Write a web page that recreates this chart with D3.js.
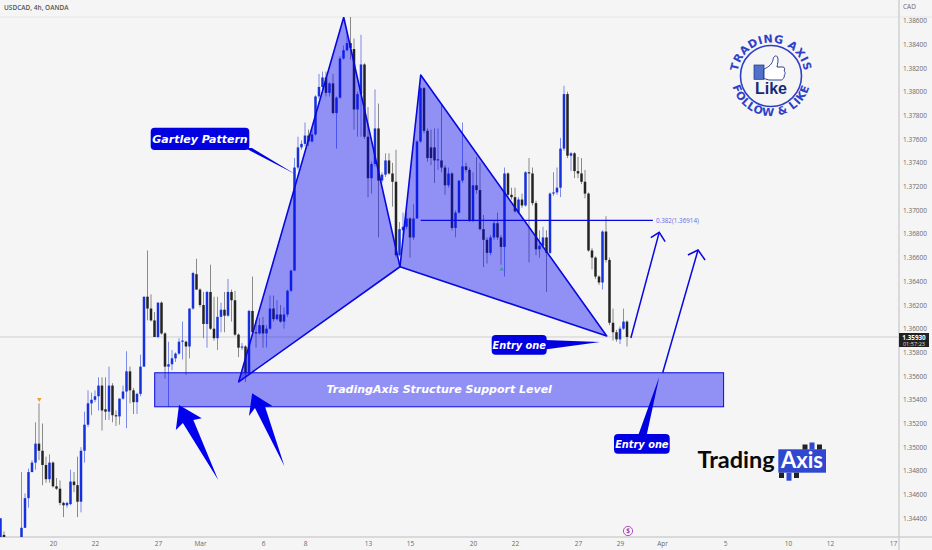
<!DOCTYPE html>
<html><head><meta charset="utf-8">
<style>html,body{margin:0;padding:0;background:#f5f5f5}svg{display:block}text{font-family:"Open Sans","Liberation Sans",sans-serif}</style>
<script src="https://cdn.jsdelivr.net/npm/d3@7/dist/d3.min.js"></script></head>
<body><svg id="c" width="932" height="550"></svg>
<script>
// All candle prices are pips above 1.3000 (e.g. 593 = 1.3593). First candle is bar index -1.
const firstBar=-1;
const opens=[423,426,416,418,412,415,423,432,457,479,
487,503,497,485,473,487,467,465,453,451,
452,471,468,454,497,519,537,540,543,552,
532,530,552,527,526,541,547,564,548,538,
545,568,627,617,607,593,622,596,568,570,
575,579,589,589,585,617,646,633,620,604,
631,600,592,610,616,611,631,624,595,584,
585,563,615,597,596,603,596,600,617,608,
612,606,612,632,649,736,753,756,763,758,
764,796,804,812,799,807,782,795,828,835,
841,836,785,798,823,762,727,739,769,725,
730,742,731,724,662,683,686,693,677,693,
758,803,767,753,753,742,742,736,721,731,
685,698,725,737,734,691,721,717,684,675,
664,677,689,677,669,731,713,711,698,709,
704,732,731,706,667,670,677,664,714,715,
719,752,798,746,748,733,731,724,714,666,
660,644,639,682,658,605,597,591,600,606];
const closes=[440,423,418,412,415,420,432,457,479,487,
503,497,485,473,487,467,465,453,451,453,
471,468,454,497,519,537,540,543,552,531,
530,552,527,526,541,547,564,548,538,545,
568,627,617,607,593,622,596,568,570,575,
579,589,590,585,617,647,633,620,604,631,
600,592,610,616,611,631,624,595,584,585,
563,615,597,596,603,596,600,617,608,612,
606,612,632,649,736,753,756,763,758,764,
796,804,812,799,807,782,795,828,835,841,
837,785,798,823,762,727,739,769,725,730,
742,731,724,662,684,686,693,677,693,758,
803,767,744,744,742,743,736,721,731,685,
698,725,737,734,691,721,717,684,675,664,
677,689,677,669,731,713,711,699,709,704,
732,731,706,667,670,677,664,714,715,719,
752,798,746,748,733,731,724,714,666,660,
644,639,682,658,605,597,591,600,606,593];
const highs=[440,429,420,420,418,421,479,461,482,489,
521,537,520,492,494,488,474,472,454,454,
481,479,492,500,530,548,546,548,559,559,
559,568,554,531,541,552,581,568,550,546,
578,627,666,629,614,622,623,597,589,582,
580,592,606,590,617,648,659,634,631,632,
654,627,627,622,631,642,633,632,596,588,
586,616,644,607,609,610,603,628,628,624,
620,618,633,650,744,762,759,774,768,769,
797,815,817,817,808,815,796,830,839,850,
865,845,800,848,824,787,741,802,790,732,
748,748,740,751,690,698,698,694,705,759,
804,804,769,768,769,769,789,738,736,732,
700,725,774,740,736,732,745,740,696,677,
679,691,698,679,736,732,719,719,711,714,
733,744,736,708,683,686,683,715,732,736,
761,805,800,749,749,745,744,734,715,668,
661,645,683,695,660,617,599,602,617,607];
const lows=[423,423,412,410,408,412,423,432,449,479,
481,489,468,470,470,466,464,451,441,449,
451,462,441,445,487,517,527,538,531,514,
523,523,521,518,519,540,516,537,528,528,
543,568,607,606,593,592,595,558,534,565,
572,578,574,561,575,616,633,618,592,584,
599,590,582,597,597,610,606,594,576,582,
555,561,596,584,595,584,584,599,606,607,
605,600,610,631,649,734,751,754,754,757,
763,794,801,796,796,781,752,794,827,834,
827,768,762,762,760,711,714,737,677,723,
728,730,703,660,661,678,684,660,675,693,
757,765,741,738,723,734,732,713,719,683,
677,697,723,732,690,690,714,683,652,655,
662,675,675,654,644,711,709,698,697,702,
703,656,704,662,660,668,631,663,712,713,
711,750,744,733,727,727,722,710,665,650,
642,637,633,656,603,590,589,587,599,585];

const priceTicks=[1.386,1.384,1.382,1.380,1.378,1.376,1.374,1.372,1.370,1.368,1.366,1.364,1.362,1.360,1.358,1.356,1.354,1.352,1.350,1.348,1.346,1.344];
const dateLabels=["20","22","27","Mar","6","8","13","15","20","22","27","29","Apr","5","10","12","17"];
const dateBars=[14,26,44,56,74,86,104,116,134,146,164,176,188,206,224,236,254];
const lastPrice=593, fibPrice=691.4;

// Drawings as [bar, pips]
const xabc=[[67.06,555.2],[97.06,862.8],[113.14,652.3]];
const bcd=[[113.14,652.3],[119.06,814.1],[172.2,593.8]];
const supportBars=[43.06,205.6], supportPips=[562.8,534.1];
const fibBars=[119.06,185.4];
const arrowOne=[[179.1,592.1],[187.2,681.3]], arrowOneHead=[[184.8,676.8],[187.2,681.3],[188.9,673.4]];
const arrowTwo=[[188.2,562.8],[198.3,666.4]], arrowTwoHead=[[195.4,662.2],[198.3,666.4],[200.3,658]];
const bigArrowA=[[50,535.6],[56.5,524.4],[54.1,522.9],[61.2,472.3],[51.1,520.4],[49.1,514.5]];
const bigArrowB=[[70.9,545.5],[76.7,534.7],[74.6,534.1],[80.1,484.1],[71.7,533],[70,526.3]];

const W=932,H=550,plotR=899,plotT=17,plotB=537;
const blue="#1530dc",ink="#232323",draw="#0808e0";
const xS=d3.scaleLinear().domain([0,254]).range([4,893]);
const price=d3.scaleLinear().domain([1.344,1.386]).range([518.3,20.6]);
const yS=p=>price(1.3+p/10000);
const svg=d3.select("#c");
svg.append("rect").attr("width",W).attr("height",H).attr("fill","#f5f5f5");
const defs=svg.append("defs");
defs.append("clipPath").attr("id","plot").append("rect").attr("x",0).attr("y",plotT).attr("width",plotR).attr("height",plotB-plotT);

// frame
svg.append("line").attr("x1",0).attr("x2",W).attr("y1",plotT).attr("y2",plotT).attr("stroke","#e6e6e6");
svg.append("line").attr("x1",0).attr("x2",W).attr("y1",plotB).attr("y2",plotB).attr("stroke","#cfcfcf").attr("stroke-width",1.5);
svg.append("line").attr("x1",plotR).attr("x2",plotR).attr("y1",0).attr("y2",H).attr("stroke","#cfcfcf").attr("stroke-width",1.5);
svg.append("line").attr("x1",0).attr("x2",plotR).attr("y1",yS(lastPrice)).attr("y2",yS(lastPrice)).attr("stroke","#cfcfcf");

// candles
const bars=d3.range(opens.length).map(i=>({bar:i+firstBar,o:opens[i],h:highs[i],l:lows[i],c:closes[i]}));
const g=svg.append("g").attr("clip-path","url(#plot)");
g.selectAll("line.w").data(bars).join("line").attr("class","w")
 .attr("x1",d=>xS(d.bar)).attr("x2",d=>xS(d.bar)).attr("y1",d=>yS(d.h)).attr("y2",d=>yS(d.l))
 .attr("stroke",d=>d.c>=d.o?"#6f7fe6":"#7d7d7d").attr("stroke-width",0.9);
g.selectAll("rect.b").data(bars).join("rect").attr("class","b")
 .attr("x",d=>xS(d.bar)-1.25).attr("width",2.5)
 .attr("y",d=>yS(Math.max(d.o,d.c))).attr("height",d=>Math.max(1,Math.abs(yS(d.o)-yS(d.c))))
 .attr("fill",d=>d.c>=d.o?blue:ink);

// pattern
const pt=d=>[xS(d[0]),yS(d[1])];
const line=d3.line().x(d=>xS(d[0])).y(d=>yS(d[1]));
[xabc,bcd].forEach(t=>{
 g.append("path").attr("d",line(t)+"Z").attr("fill","rgba(8,8,245,0.42)").attr("stroke",draw).attr("stroke-width",1.6).attr("stroke-linejoin","round");
});
// support box
g.append("rect").attr("x",xS(supportBars[0])).attr("y",yS(supportPips[0])).attr("width",xS(supportBars[1])-xS(supportBars[0])).attr("height",yS(supportPips[1])-yS(supportPips[0]))
 .attr("fill","rgba(8,8,245,0.42)").attr("stroke",draw).attr("stroke-width",1);
svg.append("text").attr("x",(xS(supportBars[0])+xS(supportBars[1]))/2).attr("y",392.5).attr("text-anchor","middle").attr("fill","#fff")
 .attr("font-size",11).attr("font-style","italic").attr("font-weight",600).style("font-family","'DejaVu Sans'").text("TradingAxis Structure Support Level");
// fib
svg.append("line").attr("x1",xS(fibBars[0])).attr("x2",xS(fibBars[1])).attr("y1",yS(fibPrice)).attr("y2",yS(fibPrice)).attr("stroke",draw).attr("stroke-width",1.3);
svg.append("text").attr("x",xS(fibBars[1])+3).attr("y",yS(fibPrice)+2.2).attr("font-size",6.3).attr("fill","#6a6ae6").text("0.382(1.36914)");
// arrows
[arrowOne,arrowOneHead,arrowTwo,arrowTwoHead].forEach(a=>svg.append("path").attr("d",line(a)).attr("fill","none").attr("stroke",draw).attr("stroke-width",1.5));
[bigArrowA,bigArrowB].forEach(a=>svg.append("path").attr("d",line(a)+"Z").attr("fill","#0000ee"));

// callouts
function callout(x,y,w,h,label,tail,fs){
 svg.append("path").attr("d","M"+tail.join("L")+"Z").attr("fill","#0000e0");
 svg.append("rect").attr("x",x).attr("y",y).attr("width",w).attr("height",h).attr("rx",4).attr("fill","#0000e0");
 svg.append("text").attr("x",x+w/2).attr("y",y+h/2+3.8).attr("text-anchor","middle").attr("fill","#fff").attr("font-size",fs)
  .attr("font-style","italic").attr("font-weight",700).style("font-family","'DejaVu Sans'").text(label);
}
callout(150.7,127.7,98.6,22.3,"Gartley Pattern",[[245,148],[295,174],[252,148]],11);
callout(491.7,335,55,19.7,"Entry one",[[545,340],[600,342],[545,349.5]],9.8);
callout(614,434,55.7,19.7,"Entry one",[[638.3,435],[659.3,376.7],[646.7,435]],9.8);

// axes
const axisFill="#6b6b6b";
const yAxis=d3.axisRight(price).tickValues(priceTicks).tickFormat(d3.format(".5f")).tickSize(0).tickPadding(4);
const ya=svg.append("g").attr("transform",`translate(${plotR},0)`).call(yAxis);
ya.select(".domain").remove();
ya.selectAll("text").attr("font-size",6.5).attr("fill",axisFill).style("font-family","'Open Sans'");
const xAxis=d3.axisBottom(d3.scaleLinear().domain(xS.domain()).range(xS.range())).tickValues(dateBars).tickFormat((d,i)=>dateLabels[i]).tickSize(0).tickPadding(4);
const xa=svg.append("g").attr("transform",`translate(0,${plotB})`).call(xAxis);
xa.select(".domain").remove();
xa.selectAll("text").attr("font-size",6.5).attr("fill",axisFill).style("font-family","'Open Sans'");
svg.append("text").attr("x",903).attr("y",8.5).attr("font-size",6.5).attr("fill",axisFill).text("CAD");
svg.append("text").attr("x",4).attr("y",9.5).attr("font-size",6.5).attr("fill","#555").attr("font-weight",600).text("USDCAD, 4h, OANDA");
// last price tag
svg.append("rect").attr("x",899).attr("y",333).attr("width",30).attr("height",14).attr("fill","#222");
svg.append("text").attr("x",914).attr("y",339.5).attr("text-anchor","middle").attr("font-size",6.3).attr("font-weight",700).attr("fill","#fff").text("1.35930");
svg.append("text").attr("x",914).attr("y",345.5).attr("text-anchor","middle").attr("font-size",5.6).attr("fill","#ddd").text("01:57:23");

// markers
svg.append("path").attr("d",d3.symbol(d3.symbolTriangle,9)).attr("transform",`translate(39.3,399.3) rotate(180)`).attr("fill","#f0a030");
svg.append("path").attr("d",d3.symbol(d3.symbolTriangle,9)).attr("transform",`translate(501.7,269.3)`).attr("fill","#3aa08a");
svg.append("circle").attr("cx",628).attr("cy",531).attr("r",4.6).attr("fill","#f5f5f5").attr("stroke","#b050c0").attr("stroke-width",1);
svg.append("text").attr("x",628).attr("y",533.4).attr("text-anchor","middle").attr("font-size",6.5).attr("font-weight",700).attr("fill","#a040b0").text("$");

// wordmark
const wm=svg.append("g");
wm.append("text").attr("x",697.5).attr("y",468).attr("font-size",23.5).attr("font-weight",700).attr("fill","#0a0a0a").style("font-family","Lato").text("Trading");
wm.append("rect").attr("x",778.3).attr("y",449.3).attr("width",47.7).attr("height",23.4).attr("fill","#2f48cf");
[[802.5,444.5,5,5,"#222"],[809.5,442.5,5,7,"#2f48cf"],[817,444.5,5,5,"#222"],[779,472.7,5,5.3,"#222"],[786.5,472.7,5,8,"#2f48cf"],[794,472.7,5,5.3,"#222"]].forEach(r=>
 wm.append("rect").attr("x",r[0]).attr("y",r[1]).attr("width",r[2]).attr("height",r[3]).attr("fill",r[4]));
wm.append("text").attr("x",802).attr("y",468).attr("text-anchor","middle").attr("font-size",22).attr("font-weight",700).attr("fill","#fff").style("font-family","Lato").text("Axis");

// like badge
const lg=svg.append("g").attr("transform","translate(771,76)");
lg.append("circle").attr("r",30.5).attr("fill","#f5f5f5").attr("stroke","#2f40c8").attr("stroke-width",1.6);
defs.append("path").attr("id","arcT").attr("d","M-33.5,0A33.5,33.5 0 0 1 33.5,0");
defs.append("path").attr("id","arcB").attr("d","M-40,0A40,40 0 0 0 40,0");
lg.append("text").attr("font-size",11).attr("font-weight",700).attr("fill","#2f40c8").attr("letter-spacing",0.6).style("font-family","'DejaVu Sans'").append("textPath").attr("href","#arcT").attr("startOffset","50%").attr("text-anchor","middle").text("TRADING AXIS");
lg.append("text").attr("font-size",11).attr("font-weight",700).attr("fill","#2f40c8").attr("letter-spacing",0.6).style("font-family","'DejaVu Sans'").append("textPath").attr("href","#arcB").attr("startOffset","50%").attr("text-anchor","middle").text("FOLLOW & LIKE");
lg.append("rect").attr("x",-17).attr("y",-11).attr("width",10).attr("height",14.3).attr("fill","#4f72c8").attr("stroke","#1c2f8a").attr("stroke-width",0.7);
lg.append("path").attr("d","M-7,-7 C-2,-9 1,-12 2,-16 C2.5,-21 7,-22 7,-16 C7,-13 6,-10 6,-9 L12,-9 C14,-9 14,-6 13,-5 C15,-4 14,-1 13,-1 C14,0 13,2 12,2.5 C12,3.5 11,4 10,4 L-1,4 C-3,4 -5,3 -7,2.5 Z")
 .attr("fill","#fff").attr("stroke","#1c2f8a").attr("stroke-width",0.9);
lg.append("text").attr("x",0).attr("y",17.5).attr("text-anchor","middle").attr("font-size",16).attr("font-weight",700).attr("fill","#132a7a").style("font-family","'Liberation Sans'").text("Like");
</script></body></html>
